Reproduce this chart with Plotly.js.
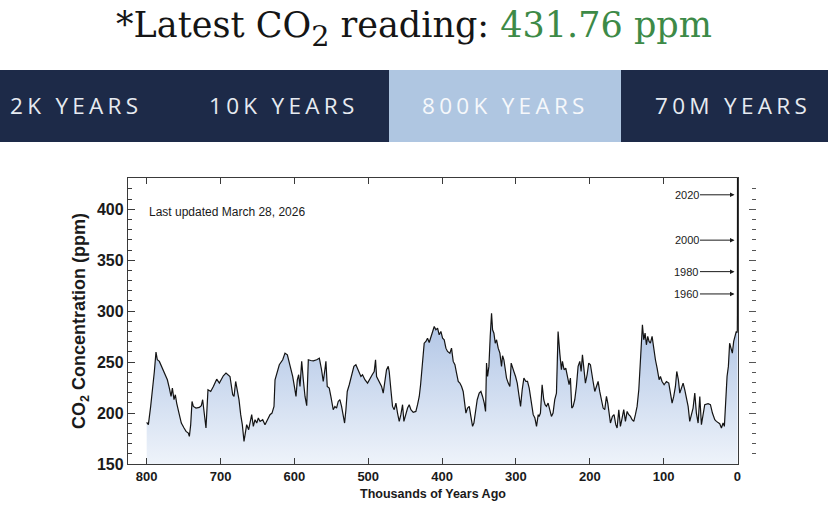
<!DOCTYPE html>
<html>
<head>
<meta charset="utf-8">
<script src="https://cdn.plot.ly/plotly-3.0.1.min.js"></script>
<style>
  html, body { margin: 0; padding: 0; background: #ffffff; width: 828px; height: 529px; overflow: hidden; }
  #reading { position: absolute; left: 0; top: 0; width: 828px; text-align: center;
             font-family: "DejaVu Serif", serif; font-size: 35px; line-height: 50px; color: #151515; }
  #reading .val { color: #3d8a47; }
  #tabs { position: absolute; left: 0; top: 70px; width: 828px; height: 72px; background: #1d2a48; }
  .tabbg { position: absolute; top: 0; height: 72px; background: #afc6e1; }
  .tab { position: absolute; top: 0; height: 72px; line-height: 72px;
         font-family: "Open Sans", sans-serif; font-size: 22.5px; letter-spacing: 4.3px;
         color: #e7ebf1; white-space: nowrap; }
  .tab.active { color: #f6f8fb; }
  #chart { position: absolute; left: 0; top: 142px; width: 828px; height: 387px; }
</style>
</head>
<body>
<div id="reading"></div>
<div id="tabs"></div>
<div id="chart"></div>
<script>
// Ice-core CO2 record: age in thousands of years before present, concentration in ppm
const iceKyr = [
  800.0, 797.7, 794.6, 792.3, 789.6, 787.4, 785.6, 782.8, 779.7, 777.4, 774.3, 772.0, 769.3, 767.0,
  765.2, 763.0, 761.2, 759.4, 755.8, 753.1, 749.4, 746.7, 743.6, 742.2, 740.4, 738.6, 736.8, 733.2,
  728.7, 726.0, 724.2, 722.4, 719.7, 717.0, 713.3, 709.7, 705.2, 701.6, 698.4, 696.2, 692.6, 689.4,
  687.2, 683.5, 681.7, 679.5, 677.2, 675.0, 672.7, 670.5, 668.2, 666.4, 664.6, 661.9, 660.1, 657.8,
  655.6, 653.3, 651.0, 648.8, 646.5, 642.9, 639.8, 636.6, 633.0, 630.3, 627.6, 626.2, 624.0, 620.4,
  615.8, 612.7, 609.5, 605.9, 602.3, 600.0, 597.8, 596.0, 594.2, 592.4, 590.1, 587.9, 585.6, 583.3,
  581.1, 577.9, 574.3, 569.8, 566.2, 563.2, 560.9, 558.7, 557.3, 555.5, 552.8, 550.6, 547.4, 545.1,
  542.9, 540.6, 538.4, 536.1, 533.9, 532.0, 530.2, 528.4, 525.7, 522.6, 519.4, 516.7, 514.4, 512.2,
  509.9, 507.7, 504.5, 500.9, 497.7, 494.6, 491.9, 490.1, 488.7, 486.5, 484.2, 481.9, 479.7, 477.4,
  475.2, 472.9, 471.6, 469.3, 467.1, 464.8, 462.5, 460.3, 458.0, 455.8, 453.5, 451.7, 449.0, 446.7,
  444.5, 442.2, 439.1, 435.5, 433.2, 430.9, 429.1, 426.4, 424.2, 421.9, 419.7, 417.4, 415.1, 412.9,
  410.6, 408.4, 406.1, 403.9, 401.6, 399.3, 397.1, 394.8, 392.6, 389.4, 387.2, 384.9, 382.6, 380.4,
  378.1, 375.9, 373.6, 371.4, 369.1, 367.7, 365.5, 363.2, 361.0, 358.7, 356.9, 354.7, 352.4, 349.7,
  347.4, 345.2, 342.9, 341.1, 339.8, 338.4, 336.6, 334.8, 333.0, 331.6, 329.8, 328.0, 326.2, 324.0,
  321.7, 319.5, 318.1, 316.3, 314.5, 312.7, 310.4, 308.2, 306.4, 304.6, 302.8, 300.5, 298.2, 296.0,
  293.7, 291.5, 289.2, 286.5, 284.3, 282.0, 279.7, 276.6, 274.3, 272.1, 269.8, 268.6, 266.8, 264.5,
  262.3, 260.5, 258.7, 256.4, 254.2, 251.9, 249.7, 247.4, 245.1, 242.9, 240.6, 238.4, 237.0, 234.8,
  232.5, 230.2, 228.0, 226.2, 224.4, 222.6, 220.3, 218.1, 215.8, 213.5, 211.7, 209.9, 208.1, 205.9,
  203.6, 201.4, 199.1, 197.3, 195.5, 193.2, 191.0, 188.7, 186.5, 184.2, 181.9, 179.7, 177.4, 175.6,
  173.8, 172.0, 169.3, 167.1, 164.8, 163.0, 160.7, 158.5, 156.2, 154.0, 151.7, 149.4, 147.2, 144.9,
  142.7, 140.4, 138.2, 135.9, 133.6, 131.4, 128.7, 126.9, 125.1, 123.3, 121.5, 119.7, 117.9, 115.6,
  113.3, 111.1, 108.8, 106.1, 104.3, 102.1, 99.3, 96.2, 93.0, 90.8, 88.5, 86.3, 84.0, 82.2,
  80.0, 78.1, 75.9, 73.6, 71.4, 69.1, 66.8, 64.6, 62.3, 60.1, 57.8, 55.6, 53.3, 51.0,
  48.8, 46.5, 44.3, 39.8, 36.6, 33.9, 30.7, 28.5, 26.2, 24.0, 21.7, 19.5, 17.7, 15.9,
  14.1, 12.3, 10.6, 8.8, 6.9, 5.1, 3.4, 1.6, 0.6, 0.2, 0.05
];
const iceCO2 = [
  190.8, 188.6, 206.5, 221.2, 240.8, 259.8, 252.3, 250.7, 245.8, 242.5, 237.6, 232.7, 224.5, 216.3,
  224.5, 213.1, 218.0, 209.8, 198.4, 190.2, 185.3, 182.0, 180.4, 177.1, 188.6, 211.4, 206.5, 204.9,
  205.6, 207.2, 213.1, 203.3, 185.3, 222.9, 221.2, 226.1, 233.3, 229.4, 234.3, 236.6, 239.2, 237.6,
  235.9, 218.0, 216.3, 231.0, 221.2, 213.1, 198.4, 188.6, 172.2, 180.4, 188.6, 183.7, 190.2, 198.4,
  186.9, 193.5, 190.2, 195.1, 191.8, 193.5, 188.6, 193.5, 198.4, 200.0, 206.5, 232.7, 239.2, 247.4,
  252.3, 258.8, 257.2, 247.4, 235.9, 226.1, 216.3, 232.7, 237.6, 226.1, 250.7, 232.7, 216.3, 207.2,
  252.3, 251.6, 251.3, 252.3, 253.9, 242.5, 231.0, 242.5, 250.7, 226.1, 224.5, 216.3, 203.3, 206.5,
  204.9, 211.4, 213.1, 206.5, 198.4, 190.2, 203.3, 221.2, 227.8, 237.6, 245.8, 247.4, 243.1, 239.9,
  235.9, 237.6, 232.7, 229.4, 234.3, 237.6, 240.8, 252.3, 235.9, 232.7, 229.4, 226.1, 219.6, 232.7,
  242.5, 245.8, 240.8, 222.9, 206.5, 203.3, 209.8, 200.0, 191.8, 198.4, 208.2, 191.8, 200.0, 204.9,
  208.2, 203.3, 200.7, 201.6, 208.2, 216.3, 227.8, 252.3, 268.6, 270.3, 273.5, 269.3, 275.2, 280.1,
  285.0, 281.7, 283.3, 276.8, 280.1, 273.5, 271.9, 263.7, 260.5, 258.8, 263.7, 250.7, 247.4, 239.2,
  231.0, 229.4, 226.1, 221.2, 209.8, 200.0, 204.9, 206.5, 196.7, 186.9, 190.2, 203.3, 213.1, 219.6,
  221.2, 216.3, 209.8, 201.6, 249.0, 235.9, 245.8, 275.2, 298.0, 281.7, 278.4, 268.6, 271.9, 263.7,
  258.8, 245.8, 256.3, 252.3, 242.5, 234.3, 229.4, 226.1, 249.0, 244.1, 240.8, 235.9, 229.4, 218.0,
  206.5, 222.9, 234.3, 231.0, 231.0, 224.5, 213.1, 198.4, 195.1, 186.9, 198.4, 196.7, 200.0, 227.8,
  213.1, 208.2, 206.5, 209.8, 203.3, 196.7, 200.0, 213.1, 219.6, 280.1, 258.8, 242.5, 250.7, 242.5,
  244.1, 235.9, 227.8, 234.3, 204.9, 206.5, 213.1, 226.1, 245.8, 250.7, 240.8, 257.2, 242.5, 229.4,
  237.6, 249.0, 247.4, 240.8, 231.0, 221.2, 226.1, 231.0, 221.2, 213.1, 204.9, 203.3, 216.3, 209.8,
  198.4, 190.2, 196.7, 198.4, 188.6, 185.3, 203.3, 186.9, 195.1, 203.3, 191.8, 201.6, 198.4, 196.7,
  193.5, 191.8, 198.4, 206.5, 222.9, 252.3, 286.6, 271.9, 278.4, 267.0, 275.2, 270.3, 268.6, 275.2,
  262.1, 252.3, 244.1, 232.7, 235.9, 231.0, 227.8, 231.0, 229.4, 221.2, 209.8, 216.3, 226.1, 240.8,
  232.7, 219.6, 224.5, 229.4, 222.9, 214.7, 206.5, 191.8, 198.4, 204.9, 219.6, 200.0, 190.2, 216.3,
  188.6, 200.0, 208.2, 209.2, 208.2, 200.0, 193.5, 191.8, 190.8, 189.5, 185.3, 190.2, 186.9, 216.3,
  235.9, 245.8, 268.6, 263.7, 258.8, 270.3, 275.2, 280.1, 279.0, 281.0, 296.0
];

// Instrumental record (calendar year, ppm)
const modernYears = [1960, 1980, 2000, 2020, 2026];
const modernCO2   = [316.9, 338.8, 369.7, 414.2, 431.76];
const markedYears = [2020, 2000, 1980, 1960];
const latestCO2 = 431.76;
const lastUpdated = "Last updated March 28, 2026";
const tabLabels = ["2K YEARS", "10K YEARS", "800K YEARS", "70M YEARS"];
const activeTab = 2;
const xTickVals = [800, 700, 600, 500, 400, 300, 200, 100, 0];

// header and range selector
document.getElementById("reading").innerHTML =
  '*Latest CO<sub style="font-size:0.82em;vertical-align:-0.3em;line-height:0">2</sub> reading: ' +
  '<span class="val">' + latestCO2.toFixed(2) + ' ppm</span>';
const tabsEl = document.getElementById("tabs");
const activeBox = [389, 232];
const bg = document.createElement("div");
bg.className = "tabbg";
bg.style.left = activeBox[0] + "px";
bg.style.width = activeBox[1] + "px";
tabsEl.appendChild(bg);
const tabTextLeft = [10, 209, 422, 655];
tabLabels.forEach((t, i) => {
  const d = document.createElement("div");
  d.className = "tab" + (i === activeTab ? " active" : "");
  d.style.left = tabTextLeft[i] + "px";
  d.textContent = t;
  tabsEl.appendChild(d);
});

// convert calendar years to thousands of years before 1950
const toKyr = y => (1950 - y) / 1000;
const xs = iceKyr.concat(modernYears.map(toKyr));
const ys = iceCO2.concat(modernCO2);

const font = "Liberation Sans, Arial, Helvetica, sans-serif";
const axisColor = "#3a3a3a";

const traces = [
  {
    x: xs, y: ys, type: "scatter", mode: "lines",
    line: { color: "#141414", width: 1.2 },
    fill: "tozeroy",
    fillgradient: {
      type: "vertical", start: 150, stop: 295,
      colorscale: [[0, "#eef3fa"], [1, "#afc4e5"]]
    },
    hoverinfo: "skip", showlegend: false
  },
  // carries the tick-only right-hand scale
  { x: [800], y: [150], yaxis: "y2", type: "scatter", mode: "lines",
    hoverinfo: "skip", showlegend: false }
];

const annotations = [
  { xref: "x", yref: "y", x: 800, y: 397.5, xanchor: "left", yanchor: "middle",
    text: lastUpdated, showarrow: false, font: { family: font, size: 12, color: "#1a1a1a" } }
];
markedYears.forEach(yr => {
  const v = modernCO2[modernYears.indexOf(yr)];
  annotations.push({
    xref: "x", yref: "y", x: toKyr(yr), y: v, text: String(yr),
    showarrow: true, ax: -51, ay: 0, arrowhead: 2, arrowsize: 0.9, arrowwidth: 1,
    arrowcolor: "#1a1a1a", standoff: 3,
    font: { family: font, size: 11, color: "#1a1a1a" }
  });
});

const layout = {
  width: 828, height: 387,
  margin: { l: 128, r: 72, t: 36, b: 65 },
  paper_bgcolor: "#ffffff", plot_bgcolor: "#ffffff",
  showlegend: false,
  font: { family: font, color: "#1a1a1a" },
  xaxis: {
    domain: [0, 0.9713],
    range: [825.3, -0.7],
    tickvals: xTickVals,
    ticks: "inside", ticklen: 6, tickwidth: 1, tickcolor: axisColor,
    showline: true, linecolor: axisColor, linewidth: 1.2, mirror: "ticks",
    showgrid: false, zeroline: false,
    tickfont: { family: font, size: 13, color: "#1a1a1a", weight: "bold" },
    title: { text: "<b>Thousands of Years Ago</b>", font: { family: font, size: 12.5, color: "#1a1a1a" }, standoff: 6 }
  },
  yaxis: {
    range: [150, 430.7],
    tickvals: [150, 200, 250, 300, 350, 400],
    ticks: "inside", ticklen: 7, tickwidth: 1, tickcolor: axisColor,
    minor: { dtick: 10, ticks: "inside", ticklen: 4, tickcolor: axisColor, tickwidth: 1, showgrid: false },
    showline: true, linecolor: axisColor, linewidth: 1.2, mirror: true,
    showgrid: false, zeroline: false,
    tickfont: { family: font, size: 16, color: "#1a1a1a", weight: "bold" },
    title: { text: "<b>CO<sub>2</sub> Concentration (ppm)</b>", font: { family: font, size: 18, color: "#1a1a1a" }, standoff: 6 }
  },
  yaxis2: {
    overlaying: "y", side: "right", anchor: "free", position: 1,
    range: [150, 430.7],
    tickvals: [150, 200, 250, 300, 350, 400],
    ticks: "inside", ticklen: 7, tickwidth: 1, tickcolor: "#555",
    minor: { dtick: 10, ticks: "inside", ticklen: 4, tickcolor: "#555", tickwidth: 1, showgrid: false },
    showticklabels: false, showline: false, showgrid: false, zeroline: false
  },
  annotations: annotations
};

Plotly.newPlot("chart", traces, layout, { displayModeBar: false, staticPlot: true });
</script>
</body>
</html>
